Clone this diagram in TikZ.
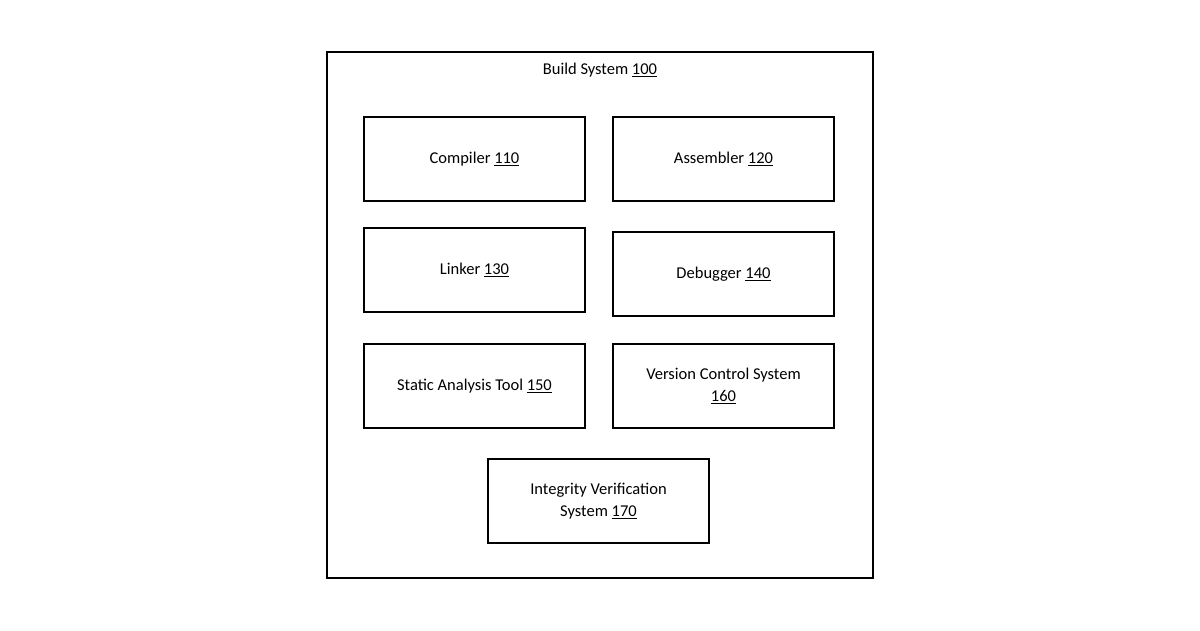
\documentclass[tikz,border=0pt]{standalone}
\usepackage{fontspec}
\setmainfont{Carlito}
\begin{document}
\begin{tikzpicture}[x=1pt,y=-1pt,
  box/.style={draw=black,line width=1.8pt,align=center,font=\fontsize{16.5}{22}\selectfont},
  lbl/.style={font=\fontsize{16.5}{22}\selectfont}]
\useasboundingbox (0,0) rectangle (1200,630);
\fill[white] (0,0) rectangle (1200,630);
\draw[line width=1.8pt] (327,52) rectangle (873,578);
\node[lbl] (title) at (600,70) {Build System \underline{100}};
\newcommand{\bx}[6]{\draw[line width=1.8pt] (#2,#3) rectangle (#4,#5);
  \node[lbl,align=center] (#1) at ({(#2+#4)/2},{(#3+#5)/2}) {#6};}
\bx{comp}{364}{117}{585}{201}{Compiler \underline{110}}
\bx{asm}{613}{117}{834}{201}{Assembler \underline{120}}
\bx{link}{364}{228}{585}{312}{Linker \underline{130}}
\bx{dbg}{613}{232}{834}{316}{Debugger \underline{140}}
\bx{sat}{364}{344}{585}{428}{Static Analysis Tool \underline{150}}
\bx{vcs}{613}{344}{834}{428}{Version Control System\\\underline{160}}
\bx{ivs}{488}{459}{709}{543}{Integrity Verification\\System \underline{170}}
\end{tikzpicture}
\end{document}
